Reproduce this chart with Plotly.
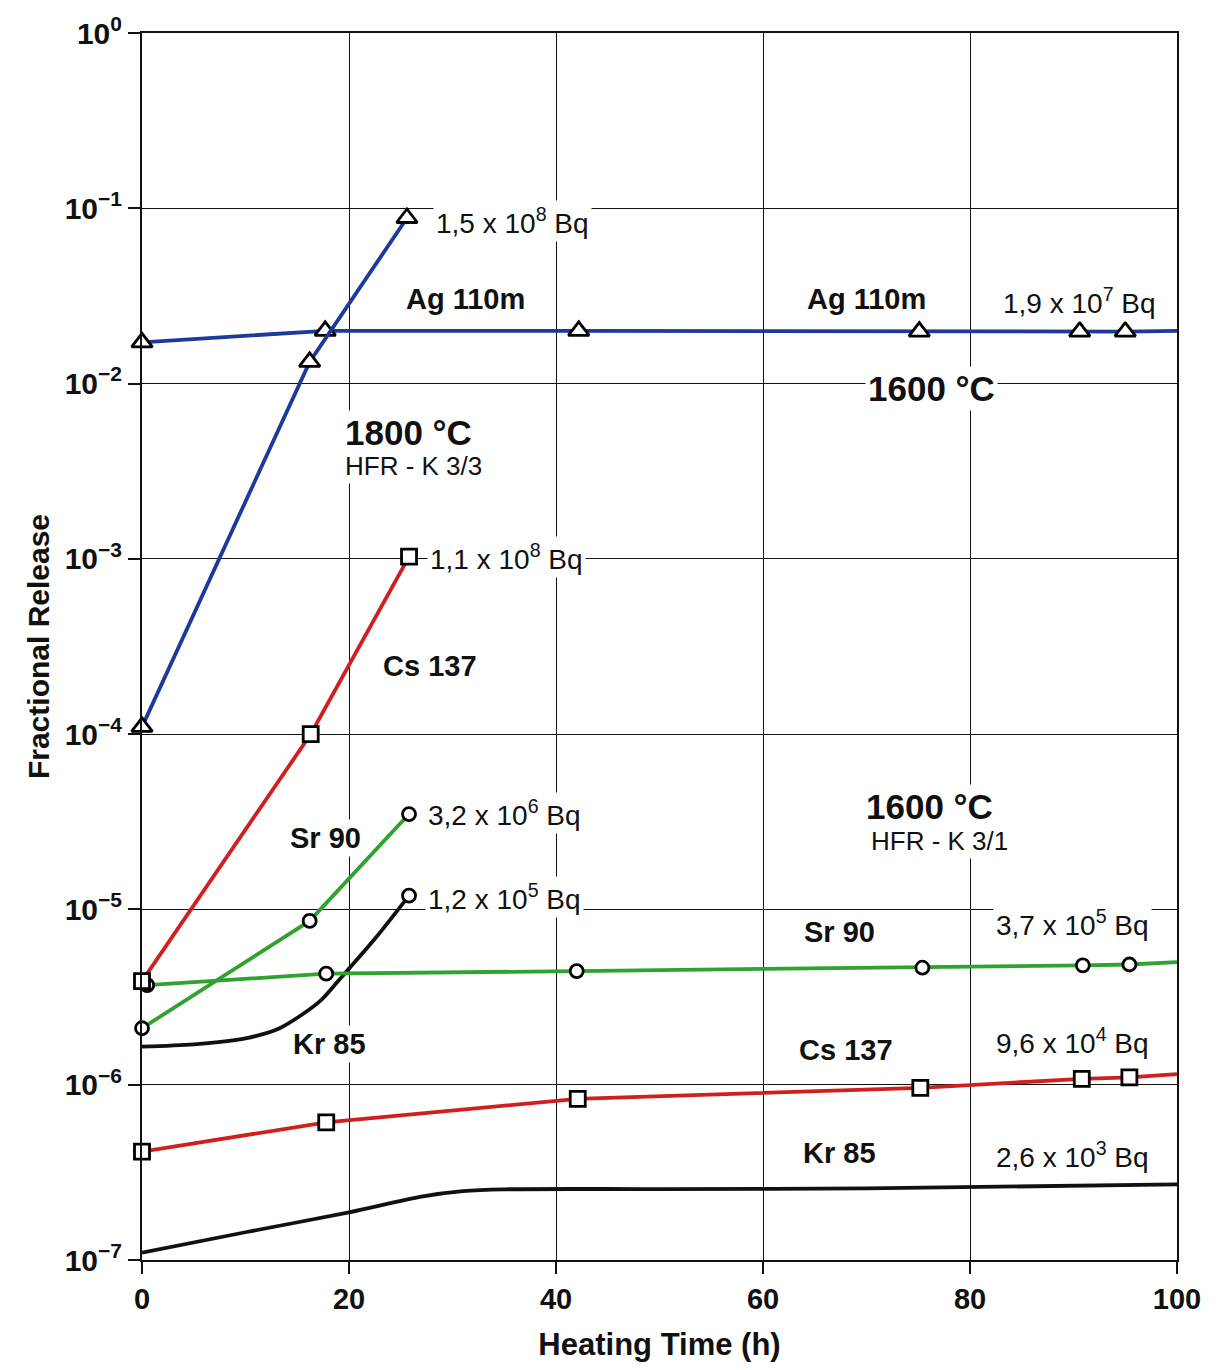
import plotly.graph_objects as go

# ---- data ----
ag1800_x = [0, 16.2, 25.6]
ag1800_y = [1.1e-4, 1.33e-2, 8.8e-2]

ag1600_x = [0, 17.7, 42.2, 75.1, 90.6, 95.0, 100]
ag1600_y = [1.72e-2, 2.0e-2, 2.0e-2, 1.98e-2, 1.98e-2, 1.98e-2, 2.0e-2]

cs1800_x = [0, 16.3, 25.8]
cs1800_y = [3.9e-6, 1.0e-4, 1.03e-3]

cs1600_x = [0, 17.8, 42.1, 75.2, 90.8, 95.4, 100]
cs1600_y = [4.15e-7, 6.1e-7, 8.3e-7, 9.6e-7, 1.08e-6, 1.1e-6, 1.15e-6]

sr1800_x = [0, 16.2, 25.8]
sr1800_y = [2.1e-6, 8.6e-6, 3.5e-5]

sr1600_x = [0.5, 17.8, 42.0, 75.4, 90.9, 95.4, 100]
sr1600_y = [3.7e-6, 4.3e-6, 4.45e-6, 4.65e-6, 4.8e-6, 4.85e-6, 5.0e-6]

kr1800_x = [0, 5, 10, 13.3, 17.2, 19.1, 22.5, 25.8]
kr1800_y = [1.65e-6, 1.7e-6, 1.84e-6, 2.1e-6, 3.0e-6, 4.0e-6, 6.8e-6, 1.2e-5]

kr1600_x = [0, 10, 20, 27, 31, 35, 50, 70, 100]
kr1600_y = [1.1e-7, 1.44e-7, 1.87e-7, 2.3e-7, 2.47e-7, 2.53e-7, 2.54e-7, 2.56e-7, 2.7e-7]

x_ticks = [0, 20, 40, 60, 80, 100]
y_tickvals = [1e-7, 1e-6, 1e-5, 1e-4, 1e-3, 1e-2, 1e-1, 1]
y_ticktext = ["10<sup>−7</sup>", "10<sup>−6</sup>", "10<sup>−5</sup>", "10<sup>−4</sup>",
              "10<sup>−3</sup>", "10<sup>−2</sup>", "10<sup>−1</sup>", "10<sup>0</sup>"]

BLUE = "#1b3a9a"
RED = "#d01f1f"
GREEN = "#2fa22f"
BLACK = "#111111"
FONT = "Liberation Sans"

fig = go.Figure()


def add_series(x, y, color, symbol=None, msize=12, last_marker=True, spline=False):
    n = len(x)
    sizes = [msize] * n
    if not last_marker:
        sizes[-1] = 0
    kw = dict(x=x, y=y, mode="lines+markers" if symbol else "lines",
              line=dict(color=color, width=3.8,
                        shape="spline" if spline else "linear", smoothing=0.8),
              showlegend=False, hoverinfo="x+y", cliponaxis=False)
    if symbol:
        kw["marker"] = dict(symbol=symbol, size=sizes, color="white", opacity=1,
                            line=dict(color="black", width=2.8))
    fig.add_trace(go.Scatter(**kw))


add_series(kr1600_x, kr1600_y, BLACK, spline=True)
add_series(kr1800_x, kr1800_y, BLACK, spline=True)
fig.add_trace(go.Scatter(x=[kr1800_x[-1]], y=[kr1800_y[-1]], mode="markers",
                         marker=dict(symbol="circle", size=13, color="white",
                                     line=dict(color="black", width=2.8)),
                         showlegend=False, cliponaxis=False))
add_series(cs1600_x, cs1600_y, RED, "square", 15, last_marker=False)
add_series(sr1600_x, sr1600_y, GREEN, "circle", 13, last_marker=False)
add_series(sr1800_x, sr1800_y, GREEN, "circle", 13)
add_series(cs1800_x, cs1800_y, RED, "square", 15)
add_series(ag1600_x, ag1600_y, BLUE, "triangle-up", 18, last_marker=False)
add_series(ag1800_x, ag1800_y, BLUE, "triangle-up", 18)

# ---- annotations ----
def ann(x, logy, text, size=28, bold=False, anchor="left"):
    fig.add_annotation(x=x, y=logy, xref="x", yref="y",
                       text=f"<b>{text}</b>" if bold else text,
                       showarrow=False, xanchor=anchor, yanchor="middle",
                       font=dict(family=FONT, size=size, color=BLACK),
                       bgcolor="white", borderpad=2)

ann(28.1, -1.07, "1,5 x 10<sup>8</sup> Bq")
ann(31.3, -1.52, "Ag 110m", 29, True, "center")
ann(70.0, -1.52, "Ag 110m", 29, True, "center")
ann(82.9, -1.53, "1,9 x 10<sup>7</sup> Bq")
ann(76.3, -2.03, "1600 °C", 35, True, "center")
ann(19.3, -2.28, "1800 °C", 35, True)
ann(19.3, -2.47, "HFR - K 3/3", 26)
ann(27.5, -2.99, "1,1 x 10<sup>8</sup> Bq")
ann(27.8, -3.61, "Cs 137", 29, True, "center")
ann(27.3, -4.45, "3,2 x 10<sup>6</sup> Bq")
ann(17.7, -4.59, "Sr 90", 29, True, "center")
ann(27.3, -4.93, "1,2 x 10<sup>5</sup> Bq")
ann(18.1, -5.77, "Kr 85", 29, True, "center")
ann(76.1, -4.41, "1600 °C", 35, True, "center")
ann(70.1, -4.61, "HFR - K 3/1", 26)
ann(67.4, -5.13, "Sr 90", 29, True, "center")
ann(82.2, -5.08, "3,7 x 10<sup>5</sup> Bq")
ann(68.0, -5.80, "Cs 137", 29, True, "center")
ann(82.2, -5.75, "9,6 x 10<sup>4</sup> Bq")
ann(67.4, -6.39, "Kr 85", 29, True, "center")
ann(82.2, -6.40, "2,6 x 10<sup>3</sup> Bq")

fig.update_layout(
    width=1219, height=1370,
    margin=dict(l=142, r=42, t=26, b=110),
    paper_bgcolor="white", plot_bgcolor="white",
    font=dict(family=FONT, color=BLACK),
    xaxis=dict(range=[0, 100], tickvals=x_ticks,
               ticktext=[f"<b>{v}</b>" for v in x_ticks],
               tickfont=dict(size=29, family=FONT, color=BLACK),
               showgrid=True, gridcolor=BLACK, gridwidth=1.4,
               showline=True, linecolor=BLACK, linewidth=2, mirror=True,
               ticks="outside", ticklen=12, tickwidth=2, tickcolor=BLACK,
               zeroline=False,
               title=dict(text="<b>Heating Time (h)</b>",
                          font=dict(size=31, family=FONT, color=BLACK), standoff=20)),
    yaxis=dict(type="log", range=[-7, 0], tickvals=y_tickvals,
               ticktext=[f"<b>{t}</b>" for t in y_ticktext],
               tickfont=dict(size=30, family=FONT, color=BLACK),
               showgrid=True, gridcolor=BLACK, gridwidth=1.4,
               showline=True, linecolor=BLACK, linewidth=2, mirror=True,
               ticks="outside", ticklen=12, tickwidth=2, tickcolor=BLACK,
               zeroline=False,
               title=dict(text="<b>Fractional Release</b>",
                          font=dict(size=30, family=FONT, color=BLACK), standoff=6)),
)

fig.write_html("out.html")
